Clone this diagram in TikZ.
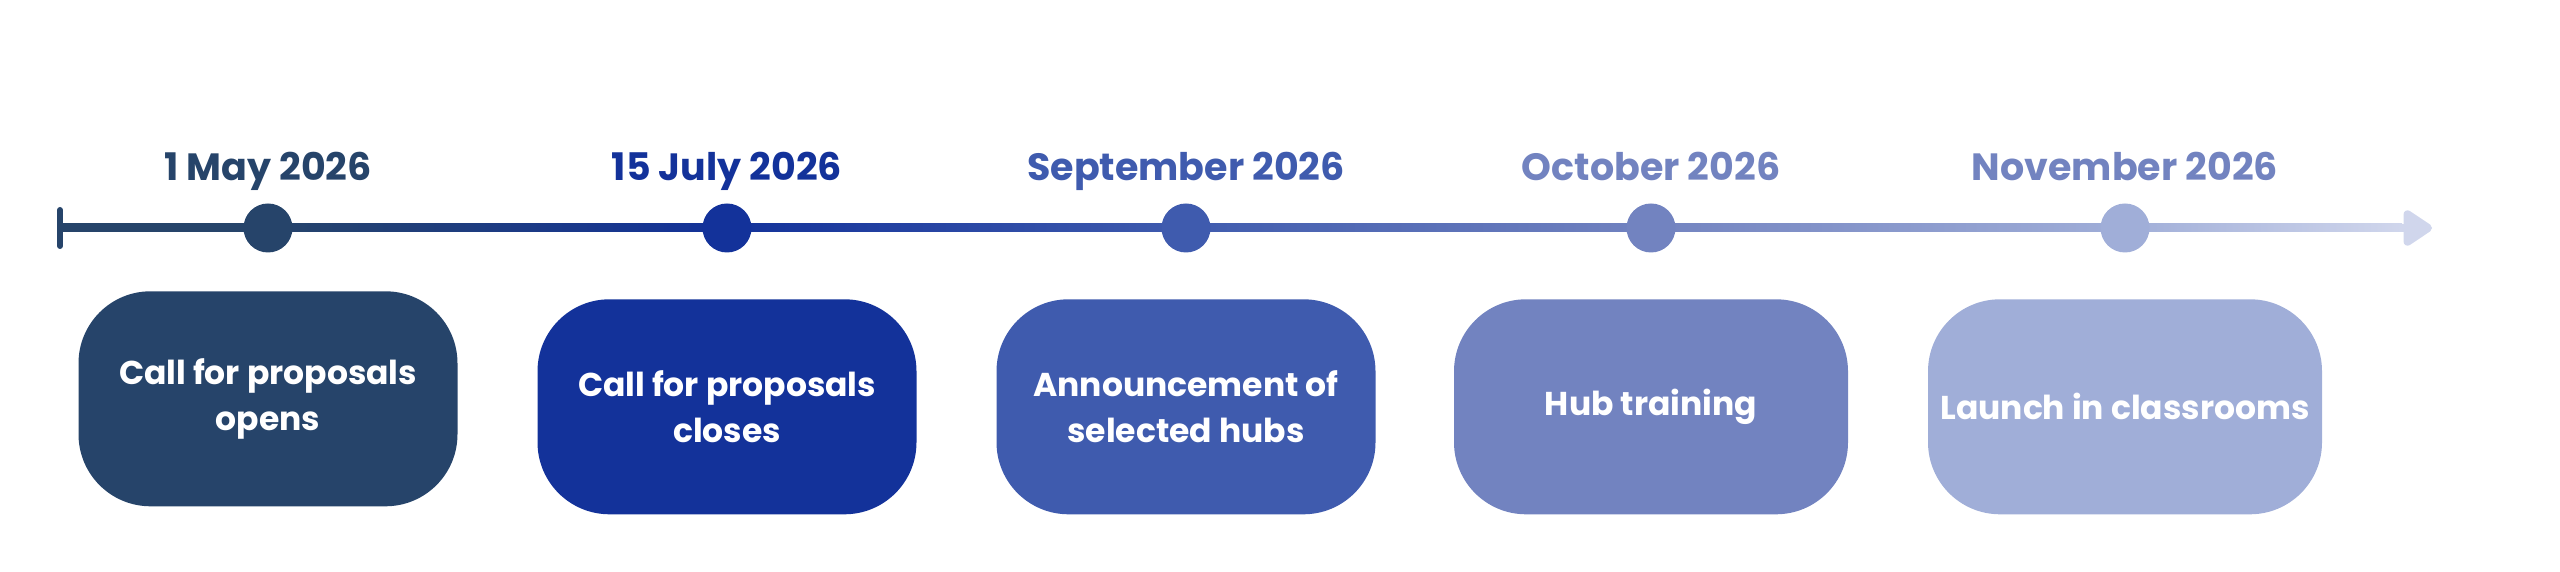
\documentclass[tikz,border=0pt]{standalone}
\usepackage{fontspec}
\setmainfont{Poppins}
\usetikzlibrary{positioning,arrows.meta,calc,backgrounds}
\definecolor{navy}{HTML}{26446A}
\definecolor{deepblue}{HTML}{13329A}
\definecolor{midblue}{HTML}{3F5BAE}
\definecolor{softblue}{HTML}{7283C0}
\definecolor{paleblue}{HTML}{A0AED8}
\definecolor{fadeblue}{HTML}{D0D6EC}
\tikzset{%
  dot/.style={circle, fill=#1, minimum size=24.5pt, inner sep=0pt}, % the milestones on the line
  datelabel/.style={text=#1, inner sep=0pt, text height=13pt, text depth=4pt,
    font=\bfseries\fontsize{19}{22}\selectfont},
  milestone/.style={fill=#1, text=white, rounded corners=36pt, align=center,
    minimum width=189.5pt, minimum height=107.5pt, inner sep=2pt,
    font=\bfseries\fontsize{16.5}{22.7}\selectfont},
  wide/.style={minimum width=197pt}
}

\begin{document}
\begin{tikzpicture}[x=0.5pt, y=0.5pt]
    \useasboundingbox (0,0) rectangle (2560,572);
    \coordinate (start) at (60,344);
    \coordinate (tip) at (2432,344);
    \node[dot=navy] (d1) at (268,344) {};
    \node[dot=deepblue] (d2) at (727,344) {};
    \node[dot=midblue] (d3) at (1186,344) {};
    \node[dot=softblue] (d4) at (1651,344) {};
    \node[dot=paleblue] (d5) at (2125,344) {};
    % the line behind the dots, shaded piece by piece
    \begin{pgfonlayer}{background}
    \shade[left color=navy, right color=navy] ($(start)+(0,-4)$) rectangle ($(d1.center)+(0,4)$);
    \shade[left color=navy, right color=deepblue] ($(d1.center)+(0,-4)$) rectangle ($(d2.center)+(0,4)$);
    \shade[left color=deepblue, right color=midblue] ($(d2.center)+(0,-4)$) rectangle ($(d3.center)+(0,4)$);
    \shade[left color=midblue, right color=softblue] ($(d3.center)+(0,-4)$) rectangle ($(d4.center)+(0,4)$);
    \shade[left color=softblue, right color=paleblue] ($(d4.center)+(0,-4)$) rectangle ($(d5.center)+(0,4)$);
    \shade[left color=paleblue, right color=fadeblue] ($(d5.center)+(0,-4)$) rectangle ($(tip)+(-30,4)$);
    \draw[fadeblue, line width=4pt, -{Triangle[length=16pt, width=20pt, round]}] ($(tip)+(-32,0)$) -- (tip);
    \draw[navy, line width=3pt, line cap=round] ($(start)+(0,-18)$) -- ($(start)+(0,18)$);
    \end{pgfonlayer}
    \node[datelabel=navy, above=7pt of d1] (t1) {1 May 2026};
    \node[datelabel=deepblue, above=7pt of d2] (t2) {15 July 2026};
    \node[datelabel=midblue, above=7pt of d3] (t3) {September 2026};
    \node[datelabel=softblue, above=7pt of d4] (t4) {October 2026};
    \node[datelabel=softblue, above=7pt of d5] (t5) {November 2026};
    \node[milestone=navy, below=19pt of d1] (b1) {Call for proposals\\opens};
    \node[milestone=deepblue, below=23pt of d2] (b2) {Call for proposals\\closes};
    \node[milestone=midblue, below=23pt of d3] (b3) {Announcement of\\selected hubs};
    \node[milestone=softblue, wide, below=23pt of d4] (b4) {Hub training};
    \node[milestone=paleblue, wide, below=23pt of d5] (b5) {Launch in classrooms};
\end{tikzpicture}
\end{document}
